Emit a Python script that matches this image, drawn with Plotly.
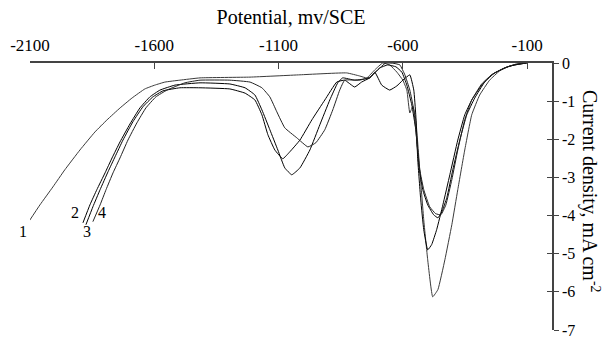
import plotly.graph_objects as go

# Curve 1
pot1 = [-2108, -2060, -2008, -1960, -1899, -1839, -1790, -1738, -1690, -1638,
        -1598, -1557, -1497, -1416, -1215, -1014, -826, -774, -745, -713,
        -681, -653, -624, -600, -584, -572, -560, -548, -532, -516,
        -500, -480, -459, -431, -403, -379, -351, -323, -291, -251,
        -211, -171, -130, -102]
cur1 = [-4.19, -3.72, -3.25, -2.80, -2.28, -1.81, -1.49, -1.18, -0.92, -0.68,
        -0.58, -0.50, -0.45, -0.39, -0.37, -0.31, -0.26, -0.34, -0.39, -0.18,
        0.0, -0.05, -0.24, -0.45, -0.71, -1.31, -1.13, -1.49, -2.80, -4.11,
        -5.16, -6.13, -5.94, -5.16, -4.24, -3.32, -2.28, -1.36, -0.84, -0.45,
        -0.21, -0.08, -0.03, 0.0]

# Curve 2
pot2 = [-1887, -1859, -1831, -1798, -1770, -1738, -1698, -1658, -1618, -1577,
        -1517, -1416, -1296, -1235, -1195, -1167, -1135, -1103, -1075, -1047,
        -1014, -974, -934, -894, -862, -842, -794, -733, -713, -685,
        -653, -624, -600, -572, -556, -548, -540, -528, -516, -500,
        -484, -464, -439, -411, -379, -351, -323, -283, -243, -191,
        -150, -102]
cur2 = [-4.19, -3.72, -3.32, -2.88, -2.49, -2.07, -1.60, -1.18, -0.89, -0.71,
        -0.58, -0.52, -0.55, -0.65, -0.84, -1.23, -1.75, -2.28, -2.75, -2.93,
        -2.75, -2.28, -1.62, -0.97, -0.52, -0.39, -0.45, -0.39, -0.24, -0.58,
        -0.71, -0.60, -0.45, -0.31, -0.71, -1.36, -2.54, -3.59, -4.37, -4.90,
        -4.76, -4.37, -3.72, -2.93, -2.02, -1.36, -0.97, -0.58, -0.31, -0.13,
        -0.05, 0.0]

# Curve 3
pot3 = [-1875, -1847, -1818, -1786, -1758, -1726, -1686, -1646, -1606, -1565,
        -1497, -1416, -1296, -1235, -1195, -1167, -1143, -1115, -1083, -1055,
        -1014, -966, -914, -866, -834, -794, -766, -733, -693, -661,
        -628, -604, -584, -564, -548, -536, -520, -500, -476, -459,
        -443, -423, -399, -371, -343, -311, -271, -231, -179, -138,
        -102]
cur3 = [-4.24, -3.77, -3.32, -2.85, -2.46, -2.02, -1.54, -1.15, -0.89, -0.73,
        -0.65, -0.65, -0.68, -0.79, -0.97, -1.36, -1.88, -2.28, -2.51, -2.33,
        -2.02, -1.49, -0.97, -0.50, -0.45, -0.63, -0.50, -0.39, -0.13, -0.05,
        -0.10, -0.24, -0.58, -1.10, -1.75, -2.67, -3.32, -3.72, -3.98, -4.06,
        -3.90, -3.53, -2.80, -2.02, -1.36, -0.92, -0.50, -0.26, -0.10, -0.03,
        0.0]

# Curve 4
pot4 = [-1847, -1818, -1794, -1766, -1738, -1706, -1670, -1634, -1594, -1549,
        -1477, -1416, -1296, -1215, -1167, -1135, -1107, -1075, -1027, -982,
        -950, -914, -882, -854, -834, -774, -733, -701, -669, -636,
        -612, -592, -572, -556, -544, -532, -516, -492, -468, -447,
        -427, -403, -379, -351, -323, -283, -243, -191, -146, -102]
cur4 = [-4.16, -3.72, -3.32, -2.88, -2.49, -2.02, -1.57, -1.18, -0.89, -0.71,
        -0.52, -0.45, -0.45, -0.50, -0.65, -0.89, -1.28, -1.70, -1.96, -2.20,
        -2.09, -1.75, -1.23, -0.71, -0.45, -0.45, -0.37, -0.18, 0.0, -0.01,
        -0.05, -0.31, -0.71, -1.23, -2.02, -2.80, -3.32, -3.77, -3.95, -3.98,
        -3.72, -3.06, -2.28, -1.49, -0.97, -0.55, -0.31, -0.13, -0.03, 0.0]

curve_labels = ["1", "2", "3", "4"]
label_pot = [-2128, -1919, -1871, -1810]
label_cur = [-4.42, -3.93, -4.42, -3.93]

x_ticks = [-2100, -1600, -1100, -600, -100]
y_ticks = [0, -1, -2, -3, -4, -5, -6, -7]
X_RANGE = [-2100, 0]
Y_RANGE = [-7, 0]

FONT = "Liberation Serif"
series = [(pot1, cur1, "#3a3a3a"), (pot2, cur2, "black"),
          (pot3, cur3, "black"), (pot4, cur4, "#222222")]

fig = go.Figure()
for i, (px_, cy, col) in enumerate(series):
    fig.add_trace(go.Scatter(x=px_, y=cy, mode="lines",
                             line=dict(color=col, width=1, shape="spline", smoothing=0.35),
                             name=curve_labels[i], showlegend=False, hoverinfo="skip"))

# invisible trace for overlay axis (inward y ticks)
fig.add_trace(go.Scatter(x=[-2100], y=[0], yaxis="y2", mode="markers",
                         marker=dict(opacity=0), showlegend=False, hoverinfo="skip"))

for t, xv, yv in zip(curve_labels, label_pot, label_cur):
    xp = (xv - X_RANGE[0]) / (X_RANGE[1] - X_RANGE[0])
    yp = (yv - Y_RANGE[0]) / (Y_RANGE[1] - Y_RANGE[0])
    fig.add_annotation(xref="paper", yref="paper", x=xp, y=yp, text=t, showarrow=False,
                       xanchor="center", yanchor="middle",
                       font=dict(family=FONT, size=16, color="black"))

fig.add_annotation(xref="paper", yref="paper", x=1.075, y=0.52, xanchor="center",
                   yanchor="middle",
                   text="Current density, mA cm<sup>-2</sup>", textangle=90,
                   showarrow=False, font=dict(family=FONT, size=20, color="black"))

fig.update_layout(
    width=605, height=338,
    margin=dict(l=30, r=53, t=63, b=8),
    plot_bgcolor="white", paper_bgcolor="white",
    font=dict(family=FONT, size=16, color="black"),
    title=dict(text="Potential, mv/SCE", x=0.481, xanchor="center", y=0.95, yanchor="middle",
               font=dict(family=FONT, size=20, color="black")),
    xaxis=dict(side="top", range=X_RANGE, tickvals=x_ticks,
               ticktext=[str(v) for v in x_ticks], automargin=False,
               showline=True, linecolor="#444", linewidth=1.5,
               ticks="inside", ticklen=6, tickcolor="#444", tickwidth=1,
               showgrid=False, zeroline=False, ticklabelstandoff=3,
               ticklabeloverflow="allow",
               tickfont=dict(family=FONT, size=17, color="black")),
    yaxis=dict(side="right", range=Y_RANGE, tickvals=y_ticks,
               ticktext=[str(v) for v in y_ticks], automargin=False,
               showline=True, linecolor="#444", linewidth=1.5,
               ticks="outside", ticklen=5, tickcolor="#444", tickwidth=1,
               showgrid=False, zeroline=False, ticklabeloverflow="allow",
               tickfont=dict(family=FONT, size=16, color="black")),
    yaxis2=dict(overlaying="y", side="right", range=Y_RANGE, tickvals=y_ticks,
                showticklabels=False, showline=False, ticks="inside", ticklen=5,
                automargin=False,
                tickcolor="#444", tickwidth=1, showgrid=False, zeroline=False),
)

fig.write_html("out.html", config={"displayModeBar": False},
               post_script="document.body.style.margin='0';")
